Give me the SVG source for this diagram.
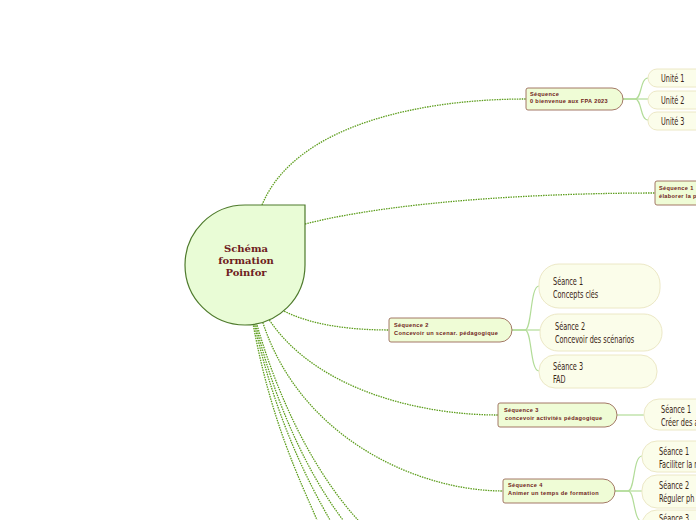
<svg xmlns="http://www.w3.org/2000/svg" width="696" height="520" viewBox="0 0 696 520">
<style>
.main{fill:none;stroke:#5e9e1e;stroke-width:1.3;stroke-dasharray:1.5 1}
.sub{fill:none;stroke:#b2dc98;stroke-width:1.2}
.seq{fill:#effcd6;stroke:#9a6a58;stroke-width:0.9}
.pill{fill:#fbfdea;stroke:#ece8c6;stroke-width:1}
.st{font-family:"Liberation Sans",Arial,sans-serif;font-size:5.6px;font-weight:bold;fill:#6e2218;letter-spacing:0.35px}
.ct{font-family:"DejaVu Sans Condensed","DejaVu Sans",sans-serif;font-size:11px;fill:#3a2414}
.cen{font-family:"DejaVu Serif","Liberation Serif",serif;font-size:10px;font-weight:bold;fill:#6e2020}
</style>
<rect width="696" height="520" fill="#ffffff"/>
<g id="connectors">
<path class="main" d="M262,205 C295,125 420,99 526,99"/>
<path class="main" d="M305,224 C400,200 550,193 655,193"/>
<path class="main" d="M282,310 C310,325 350,330 389,330"/>
<path class="main" d="M268,318 C315,390 420,415 498,415"/>
<path class="main" d="M262,320 C300,440 420,491 503,491"/>
<path class="main" d="M252,318 C270,420 300,480 317,520"/>
<path class="main" d="M253,318 C275,420 310,485 330,520"/>
<path class="main" d="M254,318 C280,425 320,490 343,520"/>
<path class="main" d="M255,318 C285,425 330,490 358,520"/>
<path class="sub" d="M623,99 H635 C642,99 640,78 648,78"/>
<path class="sub" d="M623,99 H648"/>
<path class="sub" d="M623,99 H635 C642,99 640,120 648,120"/>
<path class="sub" d="M512,330 H525 C532,330 530,286 539,286"/>
<path class="sub" d="M512,330 H540"/>
<path class="sub" d="M512,330 H525 C532,330 530,371 539,371"/>
<path class="sub" d="M617,415 H644"/>
<path class="sub" d="M615,491 H628 C635,491 633,456 642,456"/>
<path class="sub" d="M615,491 H642"/>
<path class="sub" d="M615,491 H628 C635,491 633,520 642,522"/>
</g>
<g id="center">
<path d="M245,205 H305 V265 A60,60 0 1 1 245,205 Z" fill="#e9fcd6" stroke="#4e7a2c" stroke-width="1.2"/>
<text class="cen" text-anchor="middle"><tspan x="246" y="252">Schéma</tspan><tspan x="246" y="264">formation</tspan><tspan x="246" y="276">Poinfor</tspan></text>
</g>
<g id="seq0">
<path class="seq" d="M528,88 H612 A11,11 0 0 1 623,99 A11,11 0 0 1 612,110 H528 Q526,110 526,108 V90 Q526,88 528,88 Z"/>
<text class="st"><tspan x="530" y="96">Séquence</tspan><tspan x="530" y="103">0 bienvenue aux FPA 2023</tspan></text>
</g>
<g id="seq1">
<path class="seq" d="M657,181 H710 V205 H657 Q655,205 655,203 V183 Q655,181 657,181 Z"/>
<text class="st"><tspan x="659" y="190">Séquence 1</tspan><tspan x="659" y="198">élaborer la p</tspan></text>
</g>
<g id="seq2">
<path class="seq" d="M391,318 H500 A12,12 0 0 1 512,330 A12,12 0 0 1 500,342 H391 Q389,342 389,340 V320 Q389,318 391,318 Z"/>
<text class="st"><tspan x="394" y="327">Séquence 2</tspan><tspan x="394" y="335">Concevoir un scenar. pédagogique</tspan></text>
</g>
<g id="seq3">
<path class="seq" d="M500,403 H605 A12,12 0 0 1 617,415 A12,12 0 0 1 605,427 H500 Q498,427 498,425 V405 Q498,403 500,403 Z"/>
<text class="st"><tspan x="504" y="412">Séquence 3</tspan><tspan x="505" y="420">concevoir activités pédagogique</tspan></text>
</g>
<g id="seq4">
<path class="seq" d="M505,479 H603 A12,12 0 0 1 615,491 A12,12 0 0 1 603,503 H505 Q503,503 503,501 V481 Q503,479 505,479 Z"/>
<text class="st"><tspan x="508" y="487">Séquence 4</tspan><tspan x="508" y="495">Animer un temps de formation</tspan></text>
</g>
<g id="unite1"><rect class="pill" x="648" y="69" width="70" height="18" rx="9"/><text class="ct" transform="translate(661 82) scale(0.66 1)">Unité 1</text></g>
<g id="unite2"><rect class="pill" x="648" y="91" width="70" height="18" rx="9"/><text class="ct" transform="translate(661 104) scale(0.66 1)">Unité 2</text></g>
<g id="unite3"><rect class="pill" x="648" y="112" width="70" height="18" rx="9"/><text class="ct" transform="translate(661 125) scale(0.66 1)">Unité 3</text></g>
<g id="seance2-1"><rect class="pill" x="539" y="264" width="121" height="44" rx="20"/><text class="ct" transform="translate(553 0) scale(0.66 1)"><tspan x="0" y="285">Séance 1</tspan><tspan x="0" y="298">Concepts clés</tspan></text></g>
<g id="seance2-2"><rect class="pill" x="540" y="314" width="122" height="37" rx="18"/><text class="ct" transform="translate(555 0) scale(0.66 1)"><tspan x="0" y="330">Séance 2</tspan><tspan x="0" y="343">Concevoir des scénarios</tspan></text></g>
<g id="seance2-3"><rect class="pill" x="539" y="355" width="118" height="33" rx="16"/><text class="ct" transform="translate(553 0) scale(0.66 1)"><tspan x="0" y="370">Séance 3</tspan><tspan x="0" y="383">FAD</tspan></text></g>
<g id="seance3-1"><rect class="pill" x="644" y="399" width="80" height="31" rx="15"/><text class="ct" transform="translate(661 0) scale(0.66 1)"><tspan x="0" y="413">Séance 1</tspan><tspan x="0" y="426">Créer des a</tspan></text></g>
<g id="seance4-1"><rect class="pill" x="642" y="441" width="80" height="31" rx="15"/><text class="ct" transform="translate(659 0) scale(0.66 1)"><tspan x="0" y="455">Séance 1</tspan><tspan x="0" y="468">Faciliter la m</tspan></text></g>
<g id="seance4-2"><rect class="pill" x="642" y="475" width="80" height="33" rx="15"/><text class="ct" transform="translate(659 0) scale(0.66 1)"><tspan x="0" y="489">Séance 2</tspan><tspan x="0" y="502">Réguler ph</tspan></text></g>
<g id="seance4-3"><rect class="pill" x="642" y="510" width="80" height="31" rx="15"/><text class="ct" transform="translate(659 0) scale(0.66 1)"><tspan x="0" y="522">Séance 3</tspan></text></g>
</svg>
